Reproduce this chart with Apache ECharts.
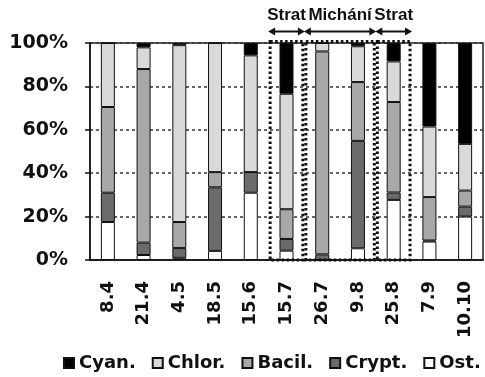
<!DOCTYPE html>
<html>
<head>
<meta charset="utf-8">
<script src="https://cdn.jsdelivr.net/npm/echarts@6/dist/echarts.min.js"></script>
<style>
  html, body { margin: 0; padding: 0; background: #fff; }
  #chart { width: 485px; height: 377px; }
</style>
</head>
<body>
<div id="chart"></div>
<script>
// Sampling dates (day.month)
const categories = ['8.4', '21.4', '4.5', '18.5', '15.6', '15.7', '26.7', '9.8', '25.8', '7.9', '10.10'];

// Share of each group, % of total (stacked bottom to top: Ost., Crypt., Bacil., Chlor., Cyan.)
const ost   = [17.5, 2.3, 1.0, 4.2, 31.0, 4.3, 0.0, 5.4, 27.7, 8.5, 20.0];
const crypt = [13.5, 5.7, 4.5, 29.3, 9.5, 5.4, 2.6, 49.5, 3.4, 0.5, 4.6];
const bacil = [39.5, 80.0, 12.0, 7.0, 0.0, 13.7, 93.5, 27.1, 41.7, 20.0, 7.4];
const chlor = [29.5, 10.0, 81.5, 59.5, 53.8, 53.2, 3.9, 16.5, 18.7, 32.5, 21.5];
const cyan  = [0.0, 2.0, 1.0, 0.0, 5.7, 23.4, 0.0, 1.5, 8.5, 38.5, 46.5];

const legendNames = ['Cyan.', 'Chlor.', 'Bacil.', 'Crypt.', 'Ost.'];

// Stratification / mixing periods
const sectionLabels = ['Strat', 'Michání', 'Strat'];
const sectionFrom   = ['15.7', '26.7', '25.8'];
const sectionTo     = ['15.7', '9.8', '25.8'];

const yTicks = [0, 20, 40, 60, 80, 100];

const FONT = '"DejaVu Sans", sans-serif';
const NARROW = '"Liberation Sans", Arial, sans-serif';
const INK = '#111';

function barSeries(name, data, color) {
  return {
    name: name,
    type: 'bar',
    stack: 'total',
    data: data,
    barWidth: 14,
    itemStyle: { color: color, borderColor: INK, borderWidth: 1 },
    emphasis: { disabled: true }
  };
}

function renderSection(params, api) {
  const a = api.value(0);
  const b = api.value(1);
  const band = api.size([1, 0])[0];
  const top = api.coord([a, 100])[1] - 1.5;
  const bottom = api.coord([a, 0])[1];
  const x0 = api.coord([a, 0])[0] - band / 2 + 1.5;
  const x1 = api.coord([b, 0])[0] + band / 2 - 1.5;
  const ay = top - 10;
  const head = 7, hw = 4;
  return {
    type: 'group',
    children: [
      {
        type: 'rect',
        shape: { x: x0, y: top, width: x1 - x0, height: bottom - top },
        style: { fill: null, stroke: INK, lineWidth: 3, lineDash: [2.5, 2.5] }
      },
      {
        type: 'line',
        shape: { x1: x0 + 2, y1: ay, x2: x1 - 2, y2: ay },
        style: { stroke: INK, lineWidth: 2 }
      },
      {
        type: 'polygon',
        shape: { points: [[x0 - 2, ay], [x0 - 2 + head, ay - hw], [x0 - 2 + head, ay + hw]] },
        style: { fill: INK }
      },
      {
        type: 'polygon',
        shape: { points: [[x1 + 2, ay], [x1 + 2 - head, ay - hw], [x1 + 2 - head, ay + hw]] },
        style: { fill: INK }
      },
      {
        type: 'text',
        style: {
          x: (x0 + x1) / 2, y: ay - 8,
          text: sectionLabels[params.dataIndex],
          fill: INK,
          font: 'bold 17px ' + NARROW,
          align: 'center',
          verticalAlign: 'bottom'
        }
      }
    ]
  };
}

const chart = echarts.init(document.getElementById('chart'), null, { renderer: 'canvas' });

chart.setOption({
  animation: false,
  backgroundColor: '#fff',
  textStyle: { fontFamily: FONT },
  grid: {
    left: 90, right: 2, top: 43, bottom: 117,
    show: true, borderColor: '#222', borderWidth: 1.5, backgroundColor: 'transparent'
  },
  legend: {
    data: legendNames,
    left: 63,
    top: 354,
    padding: 0,
    itemWidth: 10,
    itemHeight: 10,
    itemGap: 16,
    icon: 'rect',
    textStyle: { fontFamily: FONT, fontWeight: 'bold', fontSize: 18, color: INK }
  },
  xAxis: {
    type: 'category',
    data: categories,
    axisLine: { show: true, lineStyle: { color: INK, width: 1.5 } },
    axisTick: { show: false },
    axisLabel: {
      rotate: 90,
      margin: 21,
      fontFamily: FONT,
      fontWeight: 'bold',
      fontSize: 18,
      color: INK,
      interval: 0
    }
  },
  yAxis: {
    type: 'value',
    min: yTicks[0],
    max: yTicks[yTicks.length - 1],
    interval: yTicks[1] - yTicks[0],
    axisLine: { show: true, lineStyle: { color: INK, width: 1.5 } },
    axisTick: { show: true, inside: false, length: 5, lineStyle: { color: INK, width: 1.5 } },
    axisLabel: {
      formatter: '{value}%',
      margin: 22,
      fontFamily: FONT,
      fontWeight: 'bold',
      fontSize: 19,
      color: INK
    },
    splitLine: { show: true, lineStyle: { color: '#333', width: 1.5, type: [3, 3] } }
  },
  series: [
    barSeries('Ost.', ost, '#ffffff'),
    barSeries('Crypt.', crypt, '#6b6b6b'),
    barSeries('Bacil.', bacil, '#a8a8a8'),
    barSeries('Chlor.', chlor, '#d9d9d9'),
    barSeries('Cyan.', cyan, '#000000'),
    {
      type: 'custom',
      name: 'sections',
      renderItem: renderSection,
      data: sectionFrom.map((f, i) => [f, sectionTo[i]]),
      encode: { x: [0, 1] },
      clip: false,
      silent: true,
      z: 5
    }
  ]
});
</script>
</body>
</html>
